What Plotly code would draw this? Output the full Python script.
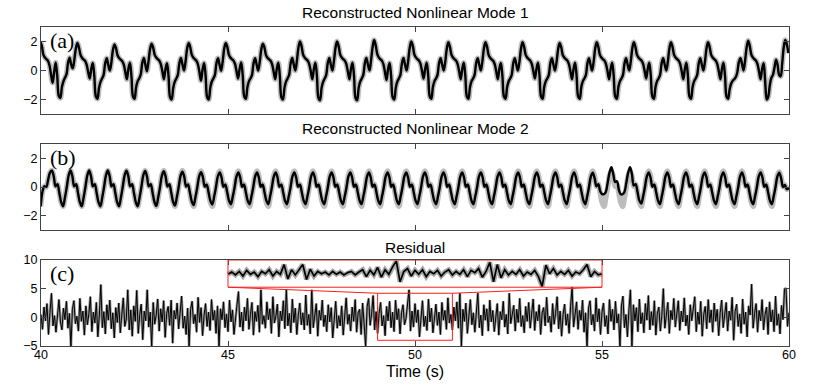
import numpy as np
import plotly.graph_objects as go

# ---- data ----
# Mode 1 sampled every dt1 seconds, starting at t1_start (one row per oscillation)
t1_start = 39.98
dt1 = 0.04133
mode1 = [
    2.0, 1.7, 1.1, 0.9, 0.78, 0.66, 0.35, -0.3, -0.85, -0.1, 0.55, -0.4, -1.75, -1.9, -1.15, -0.75, -0.5, -0.25, 0.55, 0.88, 0.4, 0.15, 0.7, 1.5,
    1.9, 1.6, 1.1, 0.88, 0.76, 0.66, 0.4, -0.1, -0.55, 0.1, 0.52, -0.4, -1.8, -1.95, -1.2, -0.78, -0.55, -0.3, 0.5, 0.85, 0.38, 0.0, 0.55, 1.4,
    1.8, 1.55, 1.05, 0.86, 0.75, 0.65, 0.42, -0.08, -0.6, 0.1, 0.53, -0.38, -1.8, -1.95, -1.15, -0.75, -0.55, -0.28, 0.52, 0.87, 0.4, -0.05, 0.6, 1.45,
    1.85, 1.6, 1.1, 0.9, 0.78, 0.68, 0.44, -0.05, -0.6, 0.08, 0.5, -0.4, -1.85, -2.0, -1.2, -0.78, -0.56, -0.3, 0.5, 0.86, 0.42, 0.0, 0.62, 1.5,
    1.9, 1.62, 1.1, 0.9, 0.78, 0.67, 0.43, -0.12, -0.7, 0.05, 0.52, -0.4, -1.85, -2.0, -1.18, -0.76, -0.55, -0.3, 0.5, 0.85, 0.4, -0.02, 0.6, 1.5,
    1.9, 1.63, 1.1, 0.9, 0.78, 0.68, 0.45, -0.05, -0.55, 0.12, 0.55, -0.35, -1.8, -1.95, -1.15, -0.75, -0.55, -0.3, 0.5, 0.85, 0.4, 0.0, 0.6, 1.45,
    1.85, 1.6, 1.08, 0.88, 0.77, 0.67, 0.43, -0.08, -0.6, 0.1, 0.53, -0.38, -1.85, -2.0, -1.2, -0.77, -0.55, -0.3, 0.5, 0.86, 0.42, 0.0, 0.65, 1.55,
    2.0, 1.7, 1.12, 0.9, 0.78, 0.68, 0.44, -0.06, -0.6, 0.1, 0.53, -0.4, -1.9, -2.05, -1.2, -0.78, -0.56, -0.3, 0.52, 0.87, 0.4, 0.0, 0.65, 1.55,
    2.0, 1.7, 1.12, 0.9, 0.78, 0.68, 0.44, -0.06, -0.6, 0.1, 0.54, -0.4, -1.9, -2.05, -1.2, -0.77, -0.55, -0.3, 0.5, 0.86, 0.4, 0.0, 0.7, 1.6,
    2.1, 1.75, 1.15, 0.9, 0.78, 0.68, 0.43, -0.1, -0.65, 0.08, 0.52, -0.4, -1.85, -2.0, -1.2, -0.77, -0.55, -0.3, 0.5, 0.86, 0.4, 0.0, 0.65, 1.55,
    2.0, 1.7, 1.12, 0.9, 0.78, 0.68, 0.45, -0.05, -0.55, 0.1, 0.53, -0.38, -1.8, -1.95, -1.15, -0.75, -0.55, -0.3, 0.5, 0.85, 0.4, 0.0, 0.6, 1.5,
    1.95, 1.65, 1.1, 0.9, 0.78, 0.68, 0.44, -0.06, -0.6, 0.1, 0.53, -0.38, -1.8, -1.95, -1.15, -0.75, -0.55, -0.3, 0.5, 0.85, 0.4, 0.0, 0.6, 1.5,
    1.95, 1.66, 1.1, 0.89, 0.77, 0.67, 0.44, -0.06, -0.6, 0.1, 0.52, -0.38, -1.8, -1.95, -1.16, -0.76, -0.55, -0.3, 0.5, 0.85, 0.41, 0.0, 0.6, 1.5,
    1.95, 1.65, 1.1, 0.9, 0.78, 0.68, 0.45, -0.04, -0.55, 0.1, 0.53, -0.38, -1.8, -1.95, -1.15, -0.75, -0.55, -0.3, 0.5, 0.85, 0.4, 0.0, 0.58, 1.45,
    1.9, 1.62, 1.08, 0.9, 0.78, 0.68, 0.44, -0.06, -0.6, 0.1, 0.53, -0.38, -1.8, -1.95, -1.15, -0.75, -0.55, -0.3, 0.5, 0.85, 0.4, 0.0, 0.6, 1.5,
    1.95, 1.65, 1.1, 0.9, 0.78, 0.68, 0.44, -0.06, -0.6, 0.1, 0.53, -0.38, -1.8, -1.95, -1.15, -0.75, -0.55, -0.3, 0.5, 0.85, 0.4, 0.0, 0.6, 1.5,
    1.95, 1.65, 1.1, 0.9, 0.78, 0.68, 0.45, -0.04, -0.55, 0.1, 0.53, -0.38, -1.8, -1.95, -1.15, -0.75, -0.55, -0.3, 0.5, 0.85, 0.4, 0.0, 0.6, 1.5,
    1.95, 1.65, 1.1, 0.9, 0.78, 0.68, 0.44, -0.06, -0.6, 0.1, 0.53, -0.38, -1.8, -1.95, -1.15, -0.75, -0.55, -0.3, 0.5, 0.85, 0.4, 0.0, 0.6, 1.5,
    1.95, 1.65, 1.1, 0.9, 0.78, 0.68, 0.44, -0.06, -0.6, 0.1, 0.53, -0.38, -1.8, -1.95, -1.3, -0.9, -0.7, -0.6, -0.45, -0.1, 0.6, 0.85, 0.45, 0.0, 0.7, 1.6,
    2.05, 1.7, 1.12, 0.9, 0.78, 0.68, 0.44, -0.06, -0.6, 0.1, 0.5, -0.8, -2.0, -1.8, -1.0, -0.5, -0.3, 0.2, 0.75, 0.4, -0.3, -0.4, 0.5, 1.6,
    2.1, 1.8, 1.2,
]

# Mode 2 sampled every dt2 seconds: true (grey) and reconstructed (black)
# one row per oscillation, cycle k peaks near 40.29 + 0.4987 k
t2_start = 39.991
dt2 = 0.04987
mode2_true = [
    -1.35, -0.3, 0.05, 0.0, 0.5, 1.0,
    # k0 - k4
    1.15, 0.75, 0.05, 0.2, -0.4, -1.05, -1.35, -0.75, 0.0, 0.8,
    1.15, 0.75, 0.05, 0.2, -0.4, -1.05, -1.35, -0.75, 0.0, 0.8,
    1.15, 0.75, 0.05, 0.2, -0.4, -1.05, -1.35, -0.75, 0.0, 0.8,
    1.15, 0.75, 0.05, 0.2, -0.4, -1.05, -1.35, -0.75, 0.0, 0.8,
    1.15, 0.75, 0.05, 0.2, -0.4, -1.05, -1.35, -0.75, 0.0, 0.8,
    # k5 - k9
    1.15, 0.75, 0.05, 0.2, -0.4, -1.05, -1.35, -0.75, 0.0, 0.8,
    1.15, 0.75, 0.05, 0.2, -0.4, -1.05, -1.35, -0.75, 0.0, 0.8,
    1.15, 0.75, 0.05, 0.2, -0.4, -1.05, -1.35, -0.75, 0.0, 0.8,
    1.12, 0.75, 0.05, 0.2, -0.4, -1.05, -1.35, -0.75, 0.0, 0.8,
    1.12, 0.75, 0.05, 0.2, -0.4, -1.05, -1.35, -0.75, 0.0, 0.8,
    # k10 - k14
    1.12, 0.75, 0.05, 0.2, -0.4, -1.05, -1.35, -0.75, 0.0, 0.8,
    1.12, 0.75, 0.05, 0.2, -0.4, -1.05, -1.35, -0.75, 0.0, 0.8,
    1.12, 0.75, 0.05, 0.2, -0.4, -1.05, -1.35, -0.75, 0.0, 0.8,
    1.12, 0.75, 0.05, 0.2, -0.4, -1.05, -1.35, -0.75, 0.0, 0.8,
    1.12, 0.75, 0.05, 0.2, -0.4, -1.05, -1.35, -0.75, 0.0, 0.8,
    # k15 - k19
    1.12, 0.75, 0.05, 0.2, -0.4, -1.05, -1.35, -0.75, 0.0, 0.8,
    1.12, 0.75, 0.05, 0.2, -0.4, -1.05, -1.35, -0.75, 0.0, 0.8,
    1.12, 0.75, 0.05, 0.2, -0.4, -1.05, -1.35, -0.75, 0.0, 0.8,
    1.12, 0.75, 0.05, 0.2, -0.4, -1.05, -1.35, -0.75, 0.0, 0.8,
    1.12, 0.75, 0.05, 0.2, -0.4, -1.05, -1.35, -0.75, 0.0, 0.8,
    # k20 - k24
    1.12, 0.75, 0.05, 0.2, -0.4, -1.05, -1.35, -0.75, 0.0, 0.8,
    1.12, 0.75, 0.05, 0.2, -0.4, -1.05, -1.35, -0.75, 0.0, 0.8,
    1.12, 0.75, 0.05, 0.2, -0.4, -1.05, -1.35, -0.75, 0.0, 0.8,
    1.12, 0.75, 0.05, 0.2, -0.4, -1.05, -1.35, -0.75, 0.0, 0.8,
    1.12, 0.75, 0.05, 0.2, -0.4, -1.05, -1.35, -0.75, 0.0, 0.8,
    # k25 - k29
    1.12, 0.75, 0.05, 0.2, -0.4, -1.05, -1.35, -0.75, 0.0, 0.8,
    1.12, 0.75, 0.05, 0.2, -0.4, -1.05, -1.35, -0.75, 0.0, 0.8,
    1.12, 0.75, 0.05, 0.2, -0.4, -1.05, -1.35, -0.75, 0.0, 0.8,
    1.12, 0.75, 0.05, 0.2, -0.4, -1.05, -1.35, -0.75, 0.0, 0.8,
    1.12, 0.75, 0.05, 0.2, -0.4, -1.05, -1.35, -0.75, 0.0, 0.8,
    # k30 - k34
    1.12, 0.75, 0.05, 0.2, -0.4, -1.05, -1.35, -0.75, 0.0, 0.8,
    1.12, 0.75, 0.05, 0.2, -0.4, -1.05, -1.35, -0.75, 0.0, 0.8,
    1.12, 0.75, 0.05, 0.2, -0.4, -1.05, -1.35, -0.75, 0.0, 0.8,
    1.12, 0.75, 0.05, 0.2, -0.4, -1.05, -1.35, -0.75, 0.0, 0.8,
    1.12, 0.75, 0.05, 0.2, -0.4, -1.05, -1.35, -0.75, 0.0, 0.8,
    # k35 - k38
    1.12, 0.75, 0.05, 0.2, -0.4, -1.05, -1.35, -0.75, 0.0, 0.8,
    1.12, 0.75, 0.05, 0.2, -0.4, -1.05, -1.35, -0.75, 0.0, 0.8,
    1.12, 0.75, 0.05, 0.2, -0.4, -1.05, -1.35, -0.75, 0.0, 0.8,
    1.12, 0.75, 0.05, 0.2, -0.4, -1.05, -1.35, -0.75, 0.0, 0.8,
    # k39 (cut at 60 s)
    1.05, 0.65, 0.02, 0.15, -0.15, -0.1, -0.2,
]
mode2_rec = [
    -1.35, -0.3, 0.05, 0.0, 0.5, 1.0,
    # k0 - k4
    1.15, 0.75, 0.05, 0.2, -0.4, -1.05, -1.35, -0.75, 0.0, 0.8,
    1.15, 0.75, 0.05, 0.2, -0.4, -1.05, -1.35, -0.75, 0.0, 0.8,
    1.15, 0.75, 0.05, 0.2, -0.4, -1.05, -1.35, -0.75, 0.0, 0.8,
    1.15, 0.75, 0.05, 0.2, -0.4, -1.05, -1.35, -0.75, 0.0, 0.8,
    1.14, 0.75, 0.05, 0.2, -0.4, -1.05, -1.34, -0.75, 0.0, 0.8,
    # k5 - k9
    1.12, 0.73, 0.05, 0.2, -0.4, -1.03, -1.32, -0.73, 0.0, 0.79,
    1.1, 0.72, 0.04, 0.19, -0.39, -1.02, -1.3, -0.72, 0.0, 0.78,
    1.07, 0.7, 0.03, 0.18, -0.38, -1.0, -1.26, -0.7, 0.0, 0.76,
    1.04, 0.68, 0.02, 0.17, -0.37, -0.97, -1.22, -0.68, 0.0, 0.75,
    1.02, 0.66, 0.02, 0.17, -0.36, -0.95, -1.2, -0.67, 0.0, 0.74,
    # k10 - k14
    1.02, 0.66, 0.02, 0.17, -0.36, -0.95, -1.2, -0.67, 0.0, 0.74,
    1.02, 0.66, 0.02, 0.17, -0.36, -0.95, -1.2, -0.67, 0.0, 0.74,
    1.02, 0.66, 0.02, 0.17, -0.36, -0.95, -1.2, -0.67, 0.0, 0.74,
    1.02, 0.66, 0.02, 0.17, -0.36, -0.95, -1.2, -0.67, 0.0, 0.74,
    1.02, 0.66, 0.02, 0.17, -0.36, -0.95, -1.2, -0.67, 0.0, 0.74,
    # k15 - k19
    1.02, 0.66, 0.02, 0.17, -0.36, -0.95, -1.2, -0.67, 0.0, 0.74,
    1.02, 0.66, 0.02, 0.17, -0.36, -0.95, -1.2, -0.67, 0.0, 0.74,
    1.02, 0.66, 0.02, 0.17, -0.36, -0.95, -1.2, -0.67, 0.0, 0.74,
    1.02, 0.66, 0.02, 0.17, -0.36, -0.95, -1.2, -0.67, 0.0, 0.74,
    1.02, 0.66, 0.02, 0.17, -0.36, -0.95, -1.2, -0.67, 0.0, 0.74,
    # k20 - k24
    1.02, 0.66, 0.02, 0.17, -0.36, -0.95, -1.2, -0.67, 0.0, 0.74,
    1.02, 0.66, 0.02, 0.17, -0.36, -0.95, -1.2, -0.67, 0.0, 0.74,
    1.02, 0.66, 0.02, 0.17, -0.36, -0.95, -1.2, -0.67, 0.0, 0.74,
    1.02, 0.66, 0.02, 0.17, -0.36, -0.95, -1.2, -0.67, 0.0, 0.74,
    1.02, 0.66, 0.02, 0.17, -0.36, -0.95, -1.2, -0.67, 0.0, 0.74,
    # k25 - k29
    1.02, 0.66, 0.02, 0.17, -0.36, -0.95, -1.2, -0.67, 0.0, 0.74,
    1.02, 0.66, 0.02, 0.17, -0.36, -0.95, -1.2, -0.67, 0.0, 0.74,
    1.02, 0.66, 0.02, 0.17, -0.36, -0.95, -1.2, -0.67, 0.0, 0.74,
    1.02, 0.66, 0.02, 0.17, -0.36, -0.95, -1.2, -0.67, 0.0, 0.74,
    1.0, 0.62, 0.05, 0.2, -0.3, -0.5, -0.5, -0.35, 0.3, 1.0,
    # k30 - k34
    1.38, 0.9, 0.35, 0.4, -0.2, -0.5, -0.5, -0.35, 0.3, 1.0,
    1.38, 0.9, 0.1, 0.2, -0.35, -0.95, -1.15, -0.67, 0.0, 0.74,
    1.02, 0.66, 0.02, 0.17, -0.36, -0.95, -1.2, -0.67, 0.0, 0.74,
    1.02, 0.66, 0.02, 0.17, -0.36, -0.95, -1.2, -0.67, 0.0, 0.74,
    1.02, 0.66, 0.02, 0.17, -0.36, -0.95, -1.2, -0.67, 0.0, 0.74,
    # k35 - k38
    1.02, 0.66, 0.02, 0.17, -0.36, -0.95, -1.2, -0.67, 0.0, 0.74,
    1.02, 0.66, 0.02, 0.17, -0.36, -0.95, -1.2, -0.67, 0.0, 0.74,
    1.02, 0.66, 0.02, 0.17, -0.36, -0.95, -1.2, -0.67, 0.0, 0.74,
    1.02, 0.66, 0.02, 0.17, -0.36, -0.95, -1.2, -0.67, 0.0, 0.74,
    # k39 (cut at 60 s)
    1.0, 0.62, 0.0, 0.15, -0.15, -0.1, -0.2,
]

# Residual, sampled every 0.04 s from 40 s (one row per second)
res_start = 40.0
res_dt = 0.04
residual = [
    0.5, -2.1, 1.8, -0.6, 2.4, -3.0, 0.9, 4.2, -1.5, 0.3, -2.6, 1.2, 3.1, -0.8, -2.2, 1.6, -0.4, 2.8, -1.9, 0.7, -5.2, 1.4, 2.9, -1.1, 0.2,
    -2.4, 3.3, -0.7, 1.1, -3.1, 2.0, -1.3, 0.6, 3.6, -2.5, 0.9, -1.0, 2.6, -3.4, 0.4, 5.7, -1.8, 1.0, -2.9, 2.2, -0.5, 3.0, -2.0, 0.8, -3.6,
    1.7, -0.9, 2.5, -2.7, 0.6, 3.4, -1.6, -0.3, 4.8, -2.2, 1.3, -3.3, 2.0, -0.7, 4.7, -2.8, 0.5, 2.3, -3.9, 1.1, -0.6, 4.8, -1.7, 0.9, -5.0,
    2.6, -1.2, 0.4, 3.2, -2.4, 1.5, -0.8, 2.9, -3.5, 0.7, 1.9, -1.4, 3.0, -4.5, 1.2, -0.3, 2.5, -2.0, 0.8, 3.7, -1.9, 0.2, -3.0, 1.6, -5.0,
    1.4, 2.8, -1.1, 0.5, -2.6, 3.5, -0.9, 1.7, -3.2, 0.3, 2.4, -1.6, 0.9, -2.3, 3.1, -0.5, 1.2, -2.8, 2.0, -5.0, 1.5, -0.4, 2.7, -1.8, 0.6,
    -2.5, 3.0, -0.8, 1.3, -3.0, 0.4, 2.2, 4.5, -1.7, 0.9, -2.4, 1.8, -0.6, 3.3, -2.1, 0.5, 2.6, -3.1, 1.0, -0.7, 2.1, -2.6, 4.8, -1.2, 0.3,
    -1.9, 2.7, -0.4, 1.5, -2.8, 3.6, -1.0, 0.2, 2.3, -3.4, 1.1, -0.6, 2.9, -2.0, 4.8, -1.5, 0.7, -2.7, 3.2, -0.9, 1.6, -3.0, 0.4, 2.5, -1.3,
    0.8, -2.2, 3.9, -1.4, 0.5, -2.9, 4.8, -1.8, 0.9, 2.4, -3.3, 1.2, -0.5, 3.0, -1.6, 0.4, -2.5, 2.2, -0.8, 1.7, -3.6, 0.6, 2.8, -1.9, 0.3,
    -1.5, 2.0, -3.1, 0.9, 3.4, -1.2, 0.5, -2.4, 1.8, -0.7, 3.1, -2.6, 0.8, 1.4, -3.0, 2.5, -1.0, -5.0, 1.9, 3.3, -1.4, 0.6, 3.8, -2.2, 1.0,
    -2.8, 0.7, 2.6, -1.5, 0.3, -3.2, 1.9, -0.6, 2.8, -1.8, 0.9, -2.5, 3.0, -0.4, 1.5, -2.9, 0.8, 2.2, -1.3, -0.2, 2.5, 4.8, -2.4, 1.1, -1.7,
    2.4, -0.9, 1.3, -3.4, 0.6, 2.9, -1.6, 0.2, -2.3, 3.2, -0.8, 1.6, -2.7, 0.4, 2.3, -1.4, 0.9, -3.0, 2.6, -0.5, 1.2, -2.1, 3.4, -1.0, 0.5,
    -2.2, 1.8, -0.6, 2.7, -1.9, 4.2, -5.0, 1.4, -0.7, 2.5, -2.8, 0.6, 3.1, -1.3, 0.8, -2.6, 1.7, 4.2, -1.8, 0.4, -3.2, 2.2, -0.5, 1.5, -2.4,
    3.0, -0.8, 1.2, -2.5, 0.7, 2.4, -3.1, 1.0, -0.4, 2.8, -1.7, 0.5, -2.9, 4.2, -1.1, 0.6, 2.1, -2.4, 1.4, -0.9, 3.3, -1.6, 0.3, -2.7, 1.9,
    -0.7, 2.6, -1.9, 0.4, 3.2, -2.3, 1.0, -0.6, 2.2, -3.0, 0.8, 1.7, -1.5, 3.5, -0.9, 0.2, -2.6, 2.4, -1.2, 0.7, 3.6, -2.0, 1.1, -3.3, 0.5,
    2.3, -1.4, 0.6, -2.8, 1.9, 5.3, -1.7, 0.4, 2.7, -2.1, 1.2, -0.5, 3.0, -2.6, 0.8, -5.0, 1.6, 2.9, -1.3, 0.5, -2.4, 3.4, -0.8, 1.5, -3.0,
    0.9, 2.5, -1.6, 0.3, -2.9, 3.1, -0.7, 1.4, -2.2, 2.8, -1.0, 0.6, -5.0, 2.0, 3.7, -1.8, 0.5, -3.4, 1.3, 4.8, -5.0, 2.2, -0.6, 1.7, -2.5,
    3.2, -1.1, 0.8, -2.7, 2.4, -0.5, 3.8, -2.2, 1.0, -1.4, 2.9, -3.1, 0.7, 1.8, -2.4, 0.3, 5.0, -1.9, 0.9, 2.6, -2.8, 1.2, -0.4, 3.3, -1.7,
    0.6, 2.9, -2.3, 1.1, -0.8, 3.4, -1.5, 0.4, -3.0, 2.2, -0.6, 1.6, 3.6, -2.5, 0.9, -1.2, 2.8, -3.3, 0.5, 1.9, -2.0, 3.1, -0.9, 1.3, -2.6,
    2.5, -0.7, 1.4, -3.2, 0.8, 3.0, -1.8, 0.3, 2.6, -2.4, 1.1, -0.5, 3.5, -4.0, 1.0, 2.3, -1.6, 0.6, -2.8, 3.2, -1.2, 0.9, -3.4, 2.0, 0.4,
    5.8, -1.9, 0.7, 2.4, -2.6, 1.2, -0.6, 3.1, -2.2, 0.5, 1.8, -3.0, 2.7, -0.8, 1.3, -2.5, 3.7, -1.4, 0.6, -2.9, 2.1, -0.4, 4.9, 5.1, -1.6,
    0.8,
]

# Zoomed inset (49-51 s of the residual), drawn across 45-55 in the top band
inset_start = 45.0
inset_dt = 0.1
inset = [
    7.5, 7.9, 7.4, 8.0, 7.2, 8.2, 7.5, 7.9, 7.1, 8.0,
    7.6, 8.3, 7.2, 8.0, 7.5, 9.2, 6.7, 8.3, 7.4, 8.2,
    9.2, 6.6, 8.4, 7.2, 8.0, 7.6, 7.9, 7.4, 8.0, 7.5,
    7.9, 7.4, 7.8, 8.0, 7.4, 7.9, 8.3, 7.1, 8.2, 7.4,
    8.7, 7.0, 8.3, 7.5, 8.8, 9.8, 6.2, 8.0, 8.5, 7.2,
    8.2, 7.5, 8.3, 7.1, 8.0, 7.6, 8.2, 7.2, 7.9, 8.3,
    7.4, 8.0, 7.5, 8.3, 7.1, 8.2, 7.8, 8.5, 7.0, 8.0,
    9.6, 6.2, 9.2, 6.9, 8.3, 7.4, 8.0, 7.5, 8.3, 7.2,
    7.9, 7.5, 8.2, 7.1, 5.4, 9.1, 7.6, 8.5, 7.4, 8.0,
    7.5, 8.2, 7.2, 7.9, 7.6, 8.3, 9.2, 7.1, 8.0, 7.4,
    7.6,
]

titles = ["Reconstructed Nonlinear Mode 1", "Reconstructed Nonlinear Mode 2", "Residual"]
panel_labels = ["(a)", "(b)", "(c)"]

assert len(mode2_true) == len(mode2_rec) == 403

t1 = t1_start + dt1 * np.arange(len(mode1))
t2 = t2_start + dt2 * np.arange(len(mode2_true))
tr = res_start + res_dt * np.arange(len(residual))
ti = inset_start + inset_dt * np.arange(len(inset))

W, H = 830, 389
ML, MR, MT, MB = 41, 41, 27, 43
PH = H - MT - MB
GREY = "#bdbdbd"
RED = "rgb(255,30,30)"


def py2paper(py):
    # pixel row (from top) -> paper y inside the plotting area
    return (H - MB - py) / PH


fig = go.Figure()

# mode 1
fig.add_trace(go.Scatter(x=t1, y=mode1, mode="lines", line=dict(color=GREY, width=5.5, shape="spline"),
                         xaxis="x", yaxis="y"))
fig.add_trace(go.Scatter(x=t1, y=mode1, mode="lines", line=dict(color="black", width=2.4, shape="spline"),
                         xaxis="x", yaxis="y"))
# mode 2
fig.add_trace(go.Scatter(x=t2, y=mode2_true, mode="lines", line=dict(color=GREY, width=5.5, shape="spline"),
                         xaxis="x2", yaxis="y2"))
fig.add_trace(go.Scatter(x=t2, y=mode2_rec, mode="lines", line=dict(color="black", width=2.4, shape="spline"),
                         xaxis="x2", yaxis="y2"))
# residual
fig.add_trace(go.Scatter(x=tr, y=residual, mode="lines", line=dict(color="#999999", width=2.7),
                         xaxis="x3", yaxis="y3"))
fig.add_trace(go.Scatter(x=tr, y=residual, mode="lines", line=dict(color="black", width=1.0),
                         xaxis="x3", yaxis="y3"))
# inset
fig.add_trace(go.Scatter(x=ti, y=inset, mode="lines", line=dict(color="#a8a8a8", width=5),
                         xaxis="x3", yaxis="y3"))
fig.add_trace(go.Scatter(x=ti, y=inset, mode="lines", line=dict(color="black", width=1.7),
                         xaxis="x3", yaxis="y3"))

# pixel rows of the three panels (top, bottom)
boxes = [(27, 114), (144, 230), (260, 346)]

axis_common = dict(showline=True, linecolor="#444", linewidth=1, mirror="ticks", ticks="inside",
                   ticklen=5, tickcolor="#444", showgrid=False, zeroline=False,
                   tickfont=dict(family="Liberation Sans, Arial", size=12.5, color="black"))

layout = dict(width=W, height=H, margin=dict(l=ML, r=MR, t=MT, b=MB, autoexpand=False), showlegend=False,
              plot_bgcolor="white", paper_bgcolor="white")
yranges = [[-3, 3], [-3, 3], [-5, 10]]
yticks = [[-2, 0, 2], [-2, 0, 2], [-5, 0, 5, 10]]
for i, (top, bot) in enumerate(boxes):
    sfx = "" if i == 0 else str(i + 1)
    layout["xaxis" + sfx] = dict(axis_common, domain=[0, 1], range=[40, 60], tickvals=[40, 45, 50, 55, 60],
                                 showticklabels=(i == 2), ticklabelstandoff=-3, anchor="y" + sfx)
    layout["yaxis" + sfx] = dict(axis_common, domain=[py2paper(bot), py2paper(top)], range=yranges[i],
                                 tickvals=yticks[i], anchor="x" + sfx)
fig.update_layout(**layout)

# titles
title_y = [12, 128, 248]
for i, txt in enumerate(titles):
    fig.add_annotation(x=0.5, y=py2paper(title_y[i]), xref="paper", yref="paper", text=txt, showarrow=False,
                       yanchor="middle", font=dict(family="Liberation Sans, Arial", size=15.5, color="black"))
fig.add_annotation(x=0.5, y=py2paper(371), xref="paper", yref="paper", text="Time (s)", showarrow=False,
                   yanchor="middle", font=dict(family="Liberation Sans, Arial", size=16, color="black"))

# panel letters
label_y = [2.07, 2.08, 7.56]
for i, txt in enumerate(panel_labels):
    sfx = "" if i == 0 else str(i + 1)
    fig.add_annotation(x=40.2, y=label_y[i], xref="x" + sfx, yref="y" + sfx, text=txt, showarrow=False,
                       xanchor="left", font=dict(family="Liberation Serif, Times New Roman", size=22, color="black"))

# zoom boxes and connectors
shape_line = dict(color=RED, width=1)
fig.add_shape(type="rect", x0=45, x1=55, y0=5.25, y1=10, xref="x3", yref="y3", line=shape_line)
fig.add_shape(type="rect", x0=49, x1=51, y0=-4, y1=4.2, xref="x3", yref="y3", line=shape_line)
fig.add_shape(type="line", x0=45, y0=5.25, x1=49, y1=4.2, xref="x3", yref="y3", line=shape_line)
fig.add_shape(type="line", x0=55, y0=5.25, x1=51, y1=4.2, xref="x3", yref="y3", line=shape_line)

# the page's default body margin would shift the figure by 8 px
fig.write_html("out.html", config={"displayModeBar": False},
               post_script="document.body.style.margin='0';")
